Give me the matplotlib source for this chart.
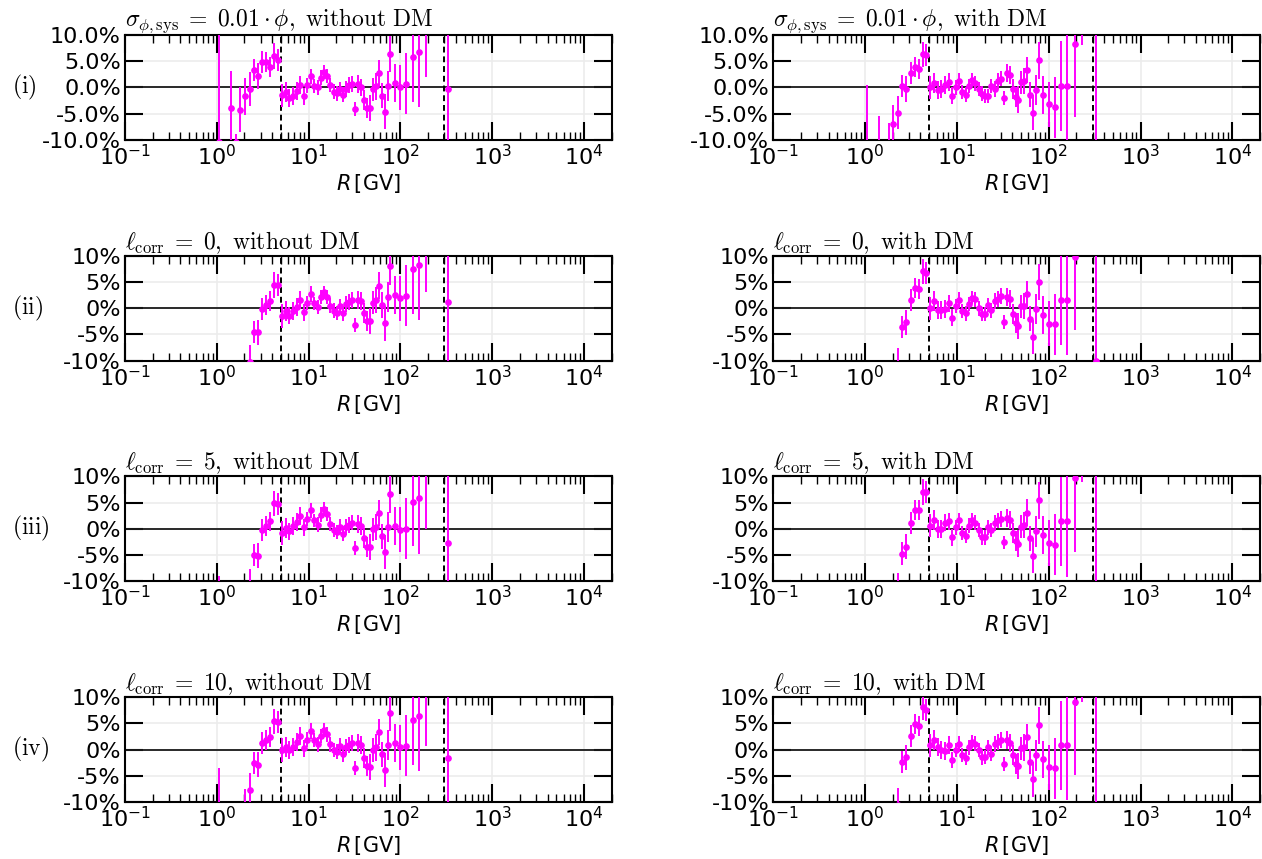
import numpy as np
import matplotlib
matplotlib.use("Agg")
import matplotlib.pyplot as plt
from matplotlib.ticker import FuncFormatter, LogLocator

# ---------------- data ----------------
R = [1.06, 1.42, 1.61, 1.81, 2.03, 2.27, 2.53, 2.82, 3.13, 3.46, 3.83, 4.22, 4.65,
     5.12, 5.63, 6.18, 6.78, 7.42, 8.12, 8.86, 9.67, 10.5, 11.5, 12.5, 13.5, 14.7,
     15.9, 17.3, 18.7, 20.3, 22.0, 23.7, 25.7, 27.7, 29.9, 32.3, 34.8, 37.5, 40.4,
     43.5, 46.8, 50.3, 54.1, 58.2, 62.5, 67.2, 72.3, 77.7, 86.8, 100, 116, 136,
     160, 192, 233, 330]

err = [21, 7.0, 1.5, 4.3, 3.6, 3.2, 2.1, 2.4, 2.1, 1.9, 1.9, 2.4, 2.1,
       2.2, 1.9, 1.7, 1.7, 1.7, 1.7, 1.6, 1.4, 1.5, 1.3, 1.4, 1.4, 1.3,
       1.4, 1.4, 1.4, 1.4, 1.4, 1.4, 1.5, 1.5, 1.5, 1.3, 1.7, 1.7, 1.9,
       1.9, 2.5, 2.2, 2.5, 2.5, 2.4, 3.3, 2.9, 3.5, 3.6, 4.3, 5.8, 8.5,
       10.5, 14, 16, 30]

res_i_noDM = [-10.3, -3.9, -10.3, -4.2, -1.7, -0.3, 3.4, 2.2, 4.8, 4.8, 3.9, 6.0, 5.3,
              -1.5, -0.8, -2.0, -1.7, -0.6, 0.5, -1.7, 0.4, 2.1, 0.3, 0.0, 1.9, 3.0,
              2.2, 0.5, -0.8, -1.1, -0.3, -1.4, -0.3, 0.5, 0.7, -4.1, 0.7, 0.0, -2.3,
              -3.9, -3.9, -0.3, 0.2, 2.7, -1.6, -4.6, 0.3, 6.4, 0.8, 0.0, 0.7, 5.8,
              6.7, 16.0, 28.0, -0.2]
res_i_DM = [-20.5, -12.5, -13.0, -11.0, -7.0, -4.8, 0.2, -0.3, 2.7, 3.9, 3.5, 6.3, 6.1,
            0.0, 0.8, -0.4, -0.3, 0.4, 1.0, -1.6, 0.0, 1.2, -0.9, -1.4, 0.3, 1.5,
            0.8, -0.3, -1.2, -1.6, -1.6, 0.3, -0.3, 1.2, 1.7, -2.0, 2.8, 2.4, -0.2,
            -1.8, -2.3, 1.0, 1.3, 3.4, -1.4, -4.8, -0.5, 5.2, -1.4, -3.2, -3.8, 0.3,
            0.3, 8.3, 24.0, 15.0]
res_ii_noDM = [-35, -20, -20, -18, -16, -10.2, -4.6, -4.6, -0.2, 0.6, 1.3, 4.4, 4.4,
               -1.5, -0.5, -1.4, -0.5, 0.3, 1.5, -0.8, 1.0, 2.7, 0.9, 0.2, 2.1, 3.0,
               2.1, 0.5, -0.5, -0.9, 0.4, -1.0, 0.8, 1.2, 1.5, -3.2, 1.6, 1.3, -1.0,
               -2.5, -2.5, 1.0, 1.6, 4.3, 0.6, -2.9, 2.1, 8.0, 2.5, 1.9, 2.4, 7.4,
               8.2, 17.0, 30.0, 1.2]
res_ii_DM = [-35, -20, -20, -18, -15, -10.8, -3.5, -2.7, 1.6, 3.8, 3.7, 7.0, 6.7,
             0.0, 1.3, -0.4, -0.3, -0.2, 0.9, -1.8, 0.4, 1.5, -0.6, -1.0, 0.8, 2.0,
             1.7, 0.0, -1.1, -1.1, 0.6, -0.4, 1.4, 1.7, 2.3, -2.6, 2.1, 1.7, -1.1,
             -2.9, -3.4, 0.4, 0.4, 2.7, -2.0, -5.5, -0.2, 5.0, -1.3, -3.0, -3.1, 1.5,
             1.5, 9.8, 26.0, -10.1]
res_iii_noDM = [-30, -20, -20, -20, -16, -10.8, -4.9, -5.1, -0.2, 0.5, 1.4, 4.9, 4.7,
                -0.8, 0.1, -0.5, 0.6, 1.3, 2.5, 0.3, 1.9, 3.5, 1.6, 0.8, 2.7, 3.8,
                2.8, 0.9, -0.2, -0.6, 0.4, -0.9, 0.4, 0.8, 1.2, -3.7, 1.0, 0.5, -1.8,
                -3.4, -3.5, -0.1, 0.3, 3.0, -1.4, -4.4, 0.4, 6.6, 0.6, -0.2, 0.0, 5.2,
                5.8, 14.0, 28.0, -2.7]
res_iii_DM = [-35, -20, -20, -18, -15, -11.6, -4.7, -3.4, 1.2, 3.5, 3.6, 7.0, 7.0,
              0.6, 1.7, -0.1, -0.1, 1.2, 1.4, -1.6, 0.3, 1.6, -0.8, -1.3, 0.6, 1.7,
              1.2, -0.2, -1.6, -1.6, 0.3, -0.2, 1.1, 1.6, 1.9, -2.6, 2.1, 1.7, -0.8,
              -2.4, -2.8, 0.4, 0.8, 3.1, -1.8, -5.1, -0.5, 5.4, -1.1, -2.7, -3.0, 1.4,
              1.4, 9.6, 25.0, -12.0]
res_iv_noDM = [-24.6, -20, -20, -18, -11.2, -7.7, -2.6, -2.9, 1.3, 1.9, 2.3, 5.4, 5.3,
               -0.1, 0.4, -0.1, 0.4, 1.4, 2.6, 0.2, 1.9, 3.5, 1.8, 1.0, 2.6, 3.7,
               2.9, 1.0, -0.1, -0.4, 0.7, -0.9, 0.5, 0.9, 1.2, -3.5, 1.3, 0.9, -1.6,
               -3.1, -3.3, -0.1, 0.4, 3.4, -0.9, -3.9, 0.9, 7.0, 1.2, 0.4, 0.7, 5.6,
               6.4, 14.7, 28.0, -1.7]
res_iv_DM = [-35, -20, -20, -18, -15, -10.6, -2.3, -1.5, 2.5, 4.9, 4.4, 8.1, 7.5,
             0.8, 1.9, 0.4, -0.1, -0.3, 0.8, -2.0, -0.1, 1.1, -1.1, -1.6, 0.4, 1.5,
             1.1, -0.1, -1.5, -1.4, 0.4, -0.8, 1.0, 1.5, 1.8, -2.8, 1.8, 1.3, -1.1,
             -2.8, -3.2, 0.2, 0.4, 2.4, -2.3, -5.7, -1.1, 4.6, -1.9, -3.4, -3.6, 0.8,
             0.8, 9.1, 25.0, 12.0]

fit_range = [5, 300]
row_labels = ["(i)", "(ii)", "(iii)", "(iv)"]
row_titles = [r"\sigma_{\phi,\mathrm{sys}}\;=\;0.01\cdot\phi",
              r"\ell_\mathrm{corr}\;=\;0",
              r"\ell_\mathrm{corr}\;=\;5",
              r"\ell_\mathrm{corr}\;=\;10"]
col_titles = [r"\mathrm{,\ without\ DM}", r"\mathrm{,\ with\ DM}"]
residuals = [[res_i_noDM, res_i_DM], [res_ii_noDM, res_ii_DM],
             [res_iii_noDM, res_iii_DM], [res_iv_noDM, res_iv_DM]]

# ---------------- figure ----------------
W, H = 1262, 859
fig, axes = plt.subplots(4, 2, figsize=(W / 100, H / 100), dpi=100)
fig.subplots_adjust(left=125 / W, right=1260 / W, top=1 - 35 / H, bottom=1 - 802 / H,
                    wspace=0.332, hspace=1.102)

for r in range(4):
    for c in range(2):
        ax = axes[r, c]
        ax.set_xscale("log")
        ax.set_xlim(0.1, 2e4)
        ax.set_ylim(-10, 10)
        ax.set_axisbelow(True)
        ax.grid(True, which="major", color="#ececec", lw=1.2)
        ax.axhline(0, color="0.1", lw=1.3, zorder=1)
        for xv in fit_range:
            ax.axvline(xv, color="k", ls=(0, (3, 2)), lw=1.4, zorder=1)
        ax.errorbar(R, residuals[r][c], yerr=err, fmt="o", color="#ff00ff",
                    ms=3.8, elinewidth=1.4, capsize=0, zorder=3)
        ax.set_yticks([-10, -5, 0, 5, 10])
        if r == 0:
            ax.yaxis.set_major_formatter(FuncFormatter(lambda v, p: f"{v:.1f}%"))
        else:
            ax.yaxis.set_major_formatter(FuncFormatter(lambda v, p: f"{v:.0f}%"))
        ax.xaxis.set_major_locator(LogLocator(base=10, numticks=20))
        ax.xaxis.set_minor_locator(LogLocator(base=10, subs=np.arange(2, 10), numticks=20))
        ax.tick_params(which="major", direction="in", length=13, width=1.5,
                       top=True, right=True, labelsize=16, pad=3)
        ax.tick_params(which="minor", direction="in", length=6, width=1.0,
                       top=True, right=True)
        for s in ax.spines.values():
            s.set_linewidth(1.5)
        ax.set_xlabel(r"$R\,$[GV]", fontsize=15, labelpad=2)
        ax.set_title("$" + row_titles[r] + col_titles[c] + "$", loc="left",
                     fontsize=17, pad=5, math_fontfamily="cm")
    pos = axes[r, 0].get_position()
    fig.text(12 / W, (pos.y0 + pos.y1) / 2, r"$\mathrm{" + row_labels[r] + "}$",
             fontsize=17, ha="left", va="center", math_fontfamily="cm")

fig.savefig("out.png", dpi=100)
